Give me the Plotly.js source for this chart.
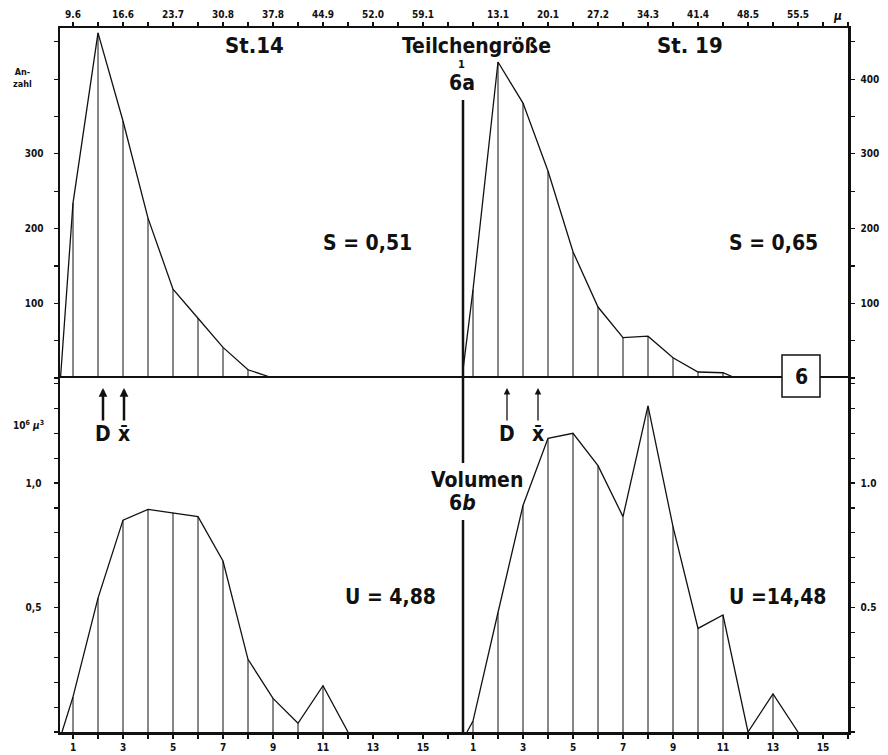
<!DOCTYPE html>
<html>
<head>
<meta charset="utf-8">
<script src="https://cdn.plot.ly/plotly-3.0.1.min.js"></script>
<style>html,body{margin:0;padding:0;background:#fff;}#chart{width:888px;height:755px;}</style>
</head>
<body>
<div id="chart"></div>
<script>
// ---- Data ----
// 6a Teilchengröße (Anzahl) — class number on x
const classes14 = [0.5, 1, 2, 3, 4, 5, 6, 7, 8, 9];
const anzahl14  = [0, 234, 462, 344, 214, 119, 80, 41, 11, 0];
const classes19 = [0.56, 1, 2, 3, 4, 5, 6, 7, 8, 9, 10, 11, 11.5];
const anzahl19  = [0, 118, 423, 368, 277, 169, 95, 54, 56, 27, 8, 7, 0];
// 6b Volumen (10^6 µ^3)
const volClasses14 = [0.56, 1, 2, 3, 4, 5, 6, 7, 8, 9, 10, 11, 12];
const volumen14    = [0, 0.141, 0.538, 0.851, 0.894, 0.881, 0.865, 0.687, 0.292, 0.135, 0.035, 0.186, 0];
const volClasses19 = [0.76, 1, 2, 3, 4, 5, 6, 7, 8, 9, 10, 11, 12, 13, 14];
const volumen19    = [0, 0.044, 0.48, 0.91, 1.18, 1.20, 1.07, 0.865, 1.31, 0.825, 0.416, 0.47, 0, 0.153, 0];

// tick labels and their positions
const classTickVals = [1, 3, 5, 7, 9, 11, 13, 15];
const classLabels   = ['1','3','5','7','9','11','13','15'];
const muTickVals14  = [1, 3, 5, 7, 9, 11, 13, 15];
const muLabels14    = ['9.6','16.6','23.7','30.8','37.8','44.9','52.0','59.1'];
const muTickVals19  = [2, 4, 6, 8, 10, 12, 14];
const muLabels19    = ['13.1','20.1','27.2','34.3','41.4','48.5','55.5'];
const anzahlValsL = [100, 200, 300];
const anzahlLabelsL = ['100','200','300'];
const anzahlValsR = [100, 200, 300, 400];
const anzahlLabelsR = ['100','200','300','400'];
const volVals = [0.5, 1.0];
const volLabelsL = ['0,5','1,0'];
const volLabelsR = ['0.5','1.0'];
const texts = {
  st14: 'St.14', st19: 'St. 19', title: 'Teilchengröße', a: '6a', b: '6<i>b</i>',
  vol: 'Volumen', s14: 'S = 0,51', s19: 'S = 0,65', u14: 'U = 4,88', u19: 'U =14,48',
  anz: 'An-<br>zahl', unit: '10<sup>6</sup> <i>µ</i><sup>3</sup>', mu: '<i>µ</i>', fig: '6'
};

// ---- helpers ----
const FONT = '"DejaVu Sans Condensed", "Liberation Sans Narrow", "DejaVu Sans", sans-serif';
const L = 60, R = 848, T = 28, B = 732, MID = 378, SPLIT = 463;
const W = R - L, H = B - T;
const px = p => (p - L) / W;
const py = p => (B - p) / H;
const dx = px(SPLIT), dy = py(MID);

function stems(xs, ys) {
  const sx = [], sy = [];
  xs.forEach((x, i) => { if (Number.isInteger(x) && ys[i] > 0) { sx.push(x, x, null); sy.push(0, ys[i], null); } });
  return {sx, sy};
}
function curve(xs, ys, xa, ya) {
  return {x: xs, y: ys, xaxis: xa, yaxis: ya, type: 'scatter', mode: 'lines',
          line: {color: '#111', width: 1.3}, hoverinfo: 'skip', showlegend: false};
}
function stemTrace(xs, ys, xa, ya) {
  const s = stems(xs, ys);
  return {x: s.sx, y: s.sy, xaxis: xa, yaxis: ya, type: 'scatter', mode: 'lines',
          line: {color: '#111', width: 1}, hoverinfo: 'skip', showlegend: false};
}
const traces = [
  curve(classes14, anzahl14, 'x', 'y'), stemTrace(classes14, anzahl14, 'x', 'y'),
  curve(classes19, anzahl19, 'x2', 'y2'), stemTrace(classes19, anzahl19, 'x2', 'y2'),
  curve(volClasses14, volumen14, 'x3', 'y3'), stemTrace(volClasses14, volumen14, 'x3', 'y3'),
  curve(volClasses19, volumen19, 'x4', 'y4'), stemTrace(volClasses19, volumen19, 'x4', 'y4')
];

const tickFont = {family: FONT, size: 10, color: '#111', weight: 'bold'};
const lineC = '#111';
const minorX = {ticks: 'outside', ticklen: 4, tickwidth: 1.2, tickcolor: lineC, dtick: 1, tick0: 0, showgrid: false};
const minorYTop = {ticks: 'outside', ticklen: 4, tickwidth: 1.2, tickcolor: lineC, dtick: 50, tick0: 0, showgrid: false};
const minorYBot = {ticks: 'outside', ticklen: 4, tickwidth: 1.2, tickcolor: lineC, dtick: 0.1, tick0: 0, showgrid: false};

const baseX = {showgrid: false, zeroline: false, showline: true, linecolor: lineC, linewidth: 2.5,
  ticks: 'outside', ticklen: 4, tickwidth: 1.2, tickcolor: lineC, tickfont: tickFont, tickmode: 'array',
  fixedrange: true, minor: minorX};
const baseY = {showgrid: false, zeroline: false, showline: true, linecolor: lineC, linewidth: 2.5,
  ticks: 'outside', ticklen: 4, tickwidth: 1.2, tickcolor: lineC, tickfont: tickFont, tickmode: 'array', fixedrange: true};

const layout = {
  width: 888, height: 755, paper_bgcolor: '#fff', plot_bgcolor: '#fff',
  margin: {l: L, r: 888 - R, t: T, b: 755 - B},
  font: {family: FONT, color: '#111'},
  showlegend: false,
  xaxis: Object.assign({}, baseX, {domain: [0, dx], range: [0.48, 16.6], anchor: 'y', side: 'top',
    tickvals: muTickVals14, ticktext: muLabels14}),
  xaxis2: Object.assign({}, baseX, {domain: [dx, 1], range: [0.6, 16.0], anchor: 'y2', side: 'top',
    tickvals: muTickVals19, ticktext: muLabels19}),
  xaxis3: Object.assign({}, baseX, {domain: [0, dx], range: [0.48, 16.6], anchor: 'y3', side: 'bottom', mirror: true,
    tickvals: classTickVals, ticktext: classLabels}),
  xaxis4: Object.assign({}, baseX, {domain: [dx, 1], range: [0.6, 16.0], anchor: 'y4', side: 'bottom', mirror: true,
    tickvals: classTickVals, ticktext: classLabels}),
  yaxis: Object.assign({}, baseY, {domain: [dy, 1], range: [0, 468.5], anchor: 'x', side: 'left', ticklabelstandoff: 8,
    tickvals: anzahlValsL, ticktext: anzahlLabelsL, minor: minorYTop}),
  yaxis2: Object.assign({}, baseY, {domain: [dy, 1], range: [0, 468.5], anchor: 'x2', side: 'right', ticklabelstandoff: 4,
    tickvals: anzahlValsR, ticktext: anzahlLabelsR, minor: minorYTop}),
  yaxis3: Object.assign({}, baseY, {domain: [0, dy], range: [0, 1.422], anchor: 'x3', side: 'left', ticklabelstandoff: 10,
    tickvals: volVals, ticktext: volLabelsL, minor: minorYBot}),
  yaxis4: Object.assign({}, baseY, {domain: [0, dy], range: [0, 1.422], anchor: 'x4', side: 'right', ticklabelstandoff: 4,
    tickvals: volVals, ticktext: volLabelsR, minor: minorYBot}),
  shapes: [
    // left axis of the right-hand panels (broken by labels)
    {type: 'line', xref: 'paper', yref: 'paper', x0: px(SPLIT), x1: px(SPLIT), y0: py(100), y1: py(MID), line: {color: lineC, width: 2.5}},
    {type: 'line', xref: 'paper', yref: 'paper', x0: px(SPLIT), x1: px(SPLIT), y0: py(MID), y1: py(463), line: {color: lineC, width: 2.5}},
    {type: 'line', xref: 'paper', yref: 'paper', x0: px(SPLIT), x1: px(SPLIT), y0: py(520), y1: py(B), line: {color: lineC, width: 2.5}},
    // figure number box
    {type: 'rect', xref: 'paper', yref: 'paper', x0: px(782), x1: px(820), y0: py(397), y1: py(355),
     fillcolor: '#fff', line: {color: lineC, width: 1.5}, layer: 'above'}
  ],
  annotations: []
};

function txt(t, xp, yp, size) {
  return {text: t, xref: 'paper', yref: 'paper', x: px(xp), y: py(yp), showarrow: false,
    xanchor: 'center', yanchor: 'middle', font: {family: FONT, size: size, color: '#111', weight: 'bold'}};
}
const A = layout.annotations;
A.push(txt(texts.st14, 254, 46, 22));
A.push(txt(texts.st19, 690, 46, 22));
A.push(txt(texts.title, 476, 46, 21));
A.push(txt('1', 461, 64, 11));
A.push(txt(texts.a, 462, 83, 21));
A.push(txt(texts.vol, 477, 480, 21));
A.push(txt(texts.b, 462, 503, 21));
A.push(txt(texts.s14, 367, 243, 21));
A.push(txt(texts.s19, 773, 243, 21));
A.push(txt(texts.u14, 390, 597, 21));
A.push(txt(texts.u19, 778, 597, 21));
A.push(txt(texts.anz, 22, 78, 9));
A.push(txt(texts.unit, 28, 425, 10));
A.push(txt(texts.mu, 837, 16, 12));
A.push(txt(texts.fig, 801, 377, 21));

// D and x-bar arrows (positions on the class axis)
function arrow(label, k, xa, w) {
  return {text: label, xref: xa, yref: 'paper', x: k, y: py(388), showarrow: true, ax: 0, ay: 46,
    arrowhead: 2, arrowsize: w > 2 ? 0.7 : 1, arrowwidth: w, arrowcolor: '#111', standoff: 0,
    font: {family: FONT, size: 21, color: '#111', weight: 'bold'}, yanchor: 'middle'};
}
A.push(arrow('D', 2.2, 'x3', 2.5));
A.push(arrow('x̄', 3.04, 'x3', 2.5));
A.push(arrow('D', 2.36, 'x4', 1.3));
A.push(arrow('x̄', 3.6, 'x4', 1.3));

Plotly.newPlot('chart', traces, layout, {staticPlot: true, displayModeBar: false});
</script>
</body>
</html>
